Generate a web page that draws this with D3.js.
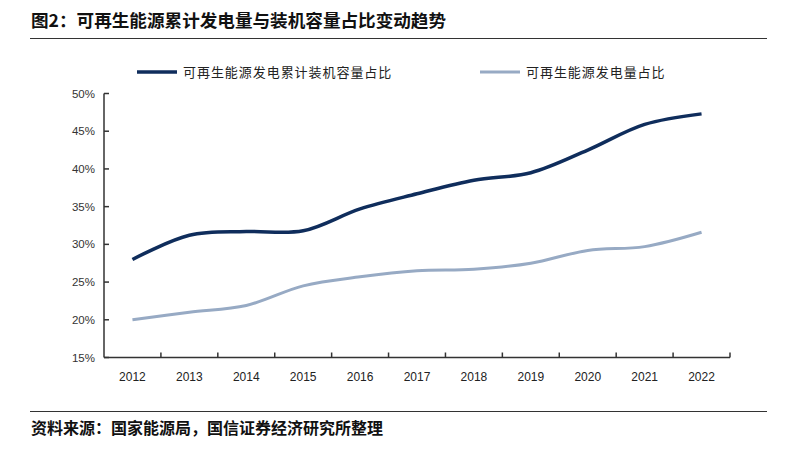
<!DOCTYPE html>
<html>
<head>
<meta charset="utf-8">
<script src="https://cdn.jsdelivr.net/npm/d3@7"></script>
<style>
body { margin: 0; background: #fff; }
text { font-family: "Noto Sans CJK SC", "Noto Sans", sans-serif; }
.tick-lbl { font-family: Arial, "Liberation Sans", sans-serif; }
</style>
</head>
<body>
<div id="idChart"></div>
<script>
var aYears = ["2012","2013","2014","2015","2016","2017","2018","2019","2020","2021","2022"];
var aCapacity = [28.0, 31.2, 31.7, 31.8, 34.7, 36.7, 38.5, 39.5, 42.5, 45.9, 47.3];
var aGeneration = [20.0, 21.0, 21.9, 24.5, 25.7, 26.5, 26.7, 27.5, 29.2, 29.7, 31.6];
var aYTicks = [15, 20, 25, 30, 35, 40, 45, 50];
var aSeriesNames = ["可再生能源发电累计装机容量占比", "可再生能源发电量占比"];
var aColors = ["#0f2d5c", "#97aac4"];

var iWidth = 797, iHeight = 451;
var svg = d3.select("#idChart").append("svg")
	.attr("width", iWidth)
	.attr("height", iHeight);

// title + rules
svg.append("text")
	.attr("x", 31).attr("y", 27)
	.attr("font-size", 17.6).attr("font-weight", "bold").attr("fill", "#111")
	.text("图2：可再生能源累计发电量与装机容量占比变动趋势");
svg.append("line").attr("x1", 30).attr("x2", 767).attr("y1", 38.5).attr("y2", 38.5)
	.attr("stroke", "#333").attr("stroke-width", 1);
svg.append("line").attr("x1", 30).attr("x2", 767).attr("y1", 411.5).attr("y2", 411.5)
	.attr("stroke", "#333").attr("stroke-width", 1);
svg.append("text")
	.attr("x", 31).attr("y", 434)
	.attr("font-size", 16).attr("font-weight", "bold").attr("fill", "#111")
	.text("资料来源：国家能源局，国信证券经济研究所整理");

var x = d3.scaleBand().domain(aYears).range([104, 730]);
var y = d3.scaleLinear().domain([15, 50]).range([357.5, 93.5]);

// y axis
var g = svg.append("g");
g.append("line").attr("x1", 104).attr("x2", 104).attr("y1", y(50)).attr("y2", y(15))
	.attr("stroke", "#333").attr("stroke-width", 1.5);
g.selectAll(".yt").data(aYTicks).enter().append("line")
	.attr("x1", 104).attr("x2", 109)
	.attr("y1", function(d){ return y(d); }).attr("y2", function(d){ return y(d); })
	.attr("stroke", "#333").attr("stroke-width", 1.5);
g.selectAll(".yl").data(aYTicks).enter().append("text")
	.attr("class", "tick-lbl")
	.attr("x", 95).attr("y", function(d){ return y(d) + 4; })
	.attr("text-anchor", "end").attr("font-size", 11.5).attr("fill", "#333")
	.text(function(d){ return d + "%"; });

// x axis
g.append("line").attr("x1", 104).attr("x2", 730).attr("y1", y(15)).attr("y2", y(15))
	.attr("stroke", "#333").attr("stroke-width", 1.5);
var aBounds = aYears.map(function(d){ return x(d) + x.bandwidth(); });
g.selectAll(".xt").data(aBounds).enter().append("line")
	.attr("x1", function(d){ return d; }).attr("x2", function(d){ return d; })
	.attr("y1", y(15)).attr("y2", y(15) - 5)
	.attr("stroke", "#333").attr("stroke-width", 1.5);
g.selectAll(".xl").data(aYears).enter().append("text")
	.attr("class", "tick-lbl")
	.attr("x", function(d){ return x(d) + x.bandwidth() / 2; }).attr("y", 381)
	.attr("text-anchor", "middle").attr("font-size", 12).attr("fill", "#222")
	.text(function(d){ return d; });

// lines
var myLine = d3.line()
	.x(function(d, i){ return x(aYears[i]) + x.bandwidth() / 2; })
	.y(function(d){ return y(d); })
	.curve(d3.curveCatmullRom.alpha(0.5));
svg.append("path").datum(aGeneration).attr("d", myLine)
	.attr("fill", "none").attr("stroke", aColors[1]).attr("stroke-width", 3);
svg.append("path").datum(aCapacity).attr("d", myLine)
	.attr("fill", "none").attr("stroke", aColors[0]).attr("stroke-width", 3.5);

// legend
var aLegX = [137, 480];
aSeriesNames.forEach(function(s, i) {
	svg.append("line").attr("x1", aLegX[i]).attr("x2", aLegX[i] + 40)
		.attr("y1", 72).attr("y2", 72)
		.attr("stroke", aColors[i]).attr("stroke-width", i == 0 ? 3.5 : 3);
	svg.append("text").attr("x", aLegX[i] + 46).attr("y", 77)
		.attr("font-size", 13).attr("letter-spacing", 0.95).attr("fill", "#222")
		.text(s);
});
</script>
</body>
</html>
